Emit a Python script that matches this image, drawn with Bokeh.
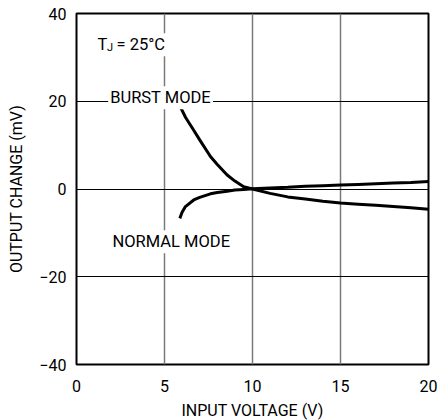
from bokeh.plotting import figure
from bokeh.models import Label, FixedTicker, Range1d
from bokeh.embed import file_html
from bokeh.resources import INLINE

# Data
burst_v = [5.85, 6.2, 6.66, 7.0, 7.61, 8.0, 8.56, 9.0, 9.5, 10.0, 11, 12, 13, 14, 15, 16, 17, 18, 19, 20]
burst_mv = [19.1, 16.3, 13.4, 11.2, 7.4, 5.6, 3.2, 1.8, 0.5, 0.0, -1.0, -1.8, -2.3, -2.8, -3.2, -3.45, -3.7, -4.0, -4.3, -4.6]
normal_v = [5.87, 6.0, 6.19, 6.66, 7.0, 7.61, 8.0, 8.56, 9.0, 9.5, 10.0, 11, 12, 13, 14, 15, 16, 17, 18, 19, 20]
normal_mv = [-6.7, -5.3, -4.0, -2.5, -1.9, -1.1, -0.8, -0.5, -0.25, -0.1, 0.05, 0.25, 0.4, 0.6, 0.75, 0.9, 1.05, 1.2, 1.35, 1.5, 1.7]
x_ticks = [0, 5, 10, 15, 20]
y_ticks = [-40, -20, 0, 20, 40]
y_tick_labels = {-40: "\u221240", -20: "\u221220", 0: "0", 20: "20", 40: "40"}

FONT = "Roboto"

p = figure(frame_width=352, frame_height=351, output_backend="svg", toolbar_location=None,
           x_range=Range1d(0, 20), y_range=Range1d(-40, 40),
           min_border_left=76, min_border_right=10, min_border_top=13, min_border_bottom=54)
p.background_fill_color = "white"
p.border_fill_color = "white"
p.outline_line_color = "black"
p.outline_line_width = 2

p.xaxis.ticker = FixedTicker(ticks=x_ticks)
p.yaxis.ticker = FixedTicker(ticks=y_ticks)
p.yaxis.major_label_overrides = y_tick_labels
for ax in (p.xaxis[0], p.yaxis[0]):
    ax.axis_line_color = None
    ax.major_tick_line_color = None
    ax.minor_tick_line_color = None
    ax.major_tick_out = 0
    ax.major_tick_in = 0
    ax.major_label_text_font = FONT
    ax.major_label_text_font_size = "16px"
    ax.major_label_text_color = "black"
    ax.axis_label_text_font = FONT
    ax.axis_label_text_font_size = "16px"
    ax.axis_label_text_font_style = "normal"
    ax.axis_label_text_color = "black"
p.xaxis.axis_label = "INPUT VOLTAGE (V)"
p.yaxis.axis_label = "OUTPUT CHANGE (mV)"
p.xaxis.major_label_standoff = 15
p.yaxis.major_label_standoff = 10
p.xaxis.axis_label_standoff = 6
p.yaxis.axis_label_standoff = 10

p.xgrid.ticker = FixedTicker(ticks=[5, 10, 15])
p.xgrid.grid_line_color = "#7a7a7a"
p.xgrid.grid_line_width = 1.5
p.ygrid.ticker = FixedTicker(ticks=[-20, 0, 20])
p.ygrid.grid_line_color = "black"
p.ygrid.grid_line_width = 1

p.line(burst_v, burst_mv, line_color="black", line_width=3)
p.line(normal_v, normal_mv, line_color="black", line_width=3)

def lab(x, y, t, size="16.5px"):
    l = Label(x=x, y=y, text=t, text_font=FONT, text_font_size=size, text_color="black",
              text_align="left", text_baseline="alphabetic",
              background_fill_color="white", padding=2)
    p.add_layout(l)

lab(1.08, 32.9, "T")
lab(2.16, 32.9, "= 25\u00b0C")
lab(1.62, 32.2, "J", "11px")
lab(1.80, 20.8, "BURST MODE")
lab(1.93, -12.0, "NORMAL MODE")

open("out.html", "w").write(file_html(p, INLINE))
